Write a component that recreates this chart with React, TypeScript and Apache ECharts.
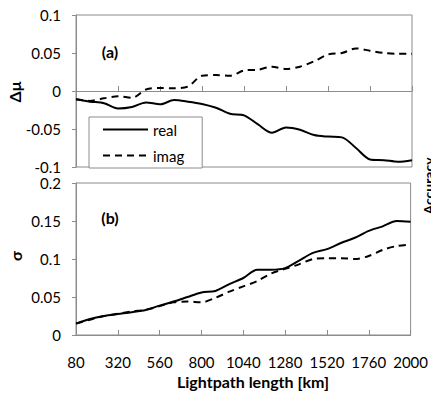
import React, { useEffect, useRef } from "react";
import * as echarts from "echarts";

const categories = [
  "80", "160", "240", "320", "400", "480", "560", "640", "720", "800", "880", "960", "1040",
  "1120", "1200", "1280", "1360", "1440", "1520", "1600", "1680", "1760", "1840", "1920", "2000",
];

// Panel (a): Δμ
const realA = [
  -0.011, -0.014, -0.016, -0.023, -0.021, -0.015, -0.0175, -0.012, -0.014, -0.017, -0.022, -0.03, -0.032,
  -0.044, -0.055, -0.048, -0.051, -0.058, -0.06, -0.061, -0.075, -0.09, -0.091, -0.093, -0.091,
];
const imagA = [
  -0.011, -0.013, -0.0096, -0.007, -0.009, 0.002, 0.004, 0.0035, 0.006, 0.02, 0.021, 0.02, 0.027,
  0.028, 0.032, 0.029, 0.032, 0.039, 0.048, 0.05, 0.056, 0.053, 0.05, 0.049, 0.049,
];

// Panel (b): σ
const realB = [
  0.015, 0.021, 0.025, 0.0276, 0.03, 0.033, 0.0386, 0.044, 0.05, 0.056, 0.058, 0.067, 0.075,
  0.086, 0.086, 0.088, 0.098, 0.108, 0.113, 0.121, 0.128, 0.137, 0.143, 0.15, 0.149,
];
const imagB = [
  0.015, 0.02, 0.025, 0.028, 0.031, 0.033, 0.038, 0.043, 0.044, 0.043, 0.049, 0.057, 0.064,
  0.071, 0.081, 0.087, 0.093, 0.1, 0.101, 0.101, 0.1, 0.104, 0.112, 0.117, 0.119,
];

const seriesNames = ["real", "imag"];

export default function App() {
  const ref = useRef<HTMLDivElement>(null);
  useEffect(() => {
    document.body.style.margin = "0";
    const chart = echarts.init(ref.current!, null, { renderer: "svg" });
    const font = "Lato";
    const gray = "#8c8c8c";
    const fmt = (v: number) => String(Math.round(v * 100) / 100);

    const xAxisBase = (gi: number, showLabel: boolean) => ({
      type: "category",
      gridIndex: gi,
      data: categories,
      boundaryGap: false,
      axisLine: { lineStyle: { color: gray, width: 1 } },
      axisTick: { inside: true, length: 5, interval: 2, lineStyle: { color: gray } },
      axisLabel: {
        show: showLabel,
        interval: 2,
        fontSize: 15,
        fontFamily: font,
        color: "#000",
        margin: 19,
      },
      splitLine: { show: false },
    });

    const yAxisBase = (gi: number, min: number, max: number, pad: number[]) => ({
      type: "value",
      gridIndex: gi,
      min,
      max,
      interval: 0.05,
      axisLine: { show: true, lineStyle: { color: gray, width: 1 } },
      axisTick: { show: true, length: 4, lineStyle: { color: gray } },
      axisLabel: {
        formatter: fmt,
        fontSize: 15,
        lineHeight: 13,
        padding: pad,
        fontFamily: font,
        color: "#000",
        margin: 15,
      },
      splitLine: { show: false },
    });

    const lineSeries = (name: string, data: number[], gi: number, dashed: boolean) => ({
      type: "line",
      name,
      xAxisIndex: gi,
      yAxisIndex: gi,
      data,
      symbol: "none",
      smooth: 0.3,
      lineStyle: { color: "#000", width: 2, type: dashed ? [7, 5] : "solid" },
      itemStyle: { color: "#000" },
    });

    const txt = (text: string, x: number, y: number, size: number, rot = 0) => ({
      type: "text",
      x,
      y,
      rotation: rot,
      style: {
        text,
        font: `bold ${size}px ${font}`,
        fill: "#000",
        textAlign: "center",
        textVerticalAlign: "middle",
        verticalAlign: "middle",
      },
    });

    chart.setOption({
      animation: false,
      backgroundColor: "#fff",
      grid: [
        { left: 76, top: 15, width: 336, height: 152, show: true, borderColor: gray, borderWidth: 1 },
        { left: 76, top: 183, width: 336, height: 152, show: true, borderColor: gray, borderWidth: 1 },
      ],
      xAxis: [xAxisBase(0, false), xAxisBase(1, true)],
      yAxis: [yAxisBase(0, -0.1, 0.1, [0, 0, 2, 0]), yAxisBase(1, 0, 0.2, [2, 0, 0, 0])],
      legend: {
        data: seriesNames,
        orient: "vertical",
        left: 89,
        top: 117,
        padding: [5, 18, 5, 13],
        itemWidth: 45,
        itemHeight: 14,
        itemGap: 11,
        borderColor: gray,
        borderWidth: 1,
        backgroundColor: "#fff",
        itemStyle: { color: "rgba(0,0,0,0)", borderColor: "rgba(0,0,0,0)", borderWidth: 0, opacity: 0 },
        textStyle: { fontSize: 15, color: "#000", fontFamily: font },
      },
      series: [
        lineSeries(seriesNames[0], realA, 0, false),
        lineSeries(seriesNames[1], imagA, 0, true),
        lineSeries(seriesNames[0], realB, 1, false),
        lineSeries(seriesNames[1], imagB, 1, true),
      ],
      graphic: [
        txt("(a)", 110, 51, 16),
        txt("(b)", 110, 217, 16),
        txt("Δμ", 14, 92, 16, Math.PI / 2),
        txt("σ", 15, 256, 16, Math.PI / 2),
        txt("Lightpath length [km]", 253, 381, 16),
        txt("Accuracy", 428, 186, 14, Math.PI / 2),
      ],
    });
    return () => chart.dispose();
  }, []);
  return <div ref={ref} style={{ width: 431, height: 395 }} />;
}
